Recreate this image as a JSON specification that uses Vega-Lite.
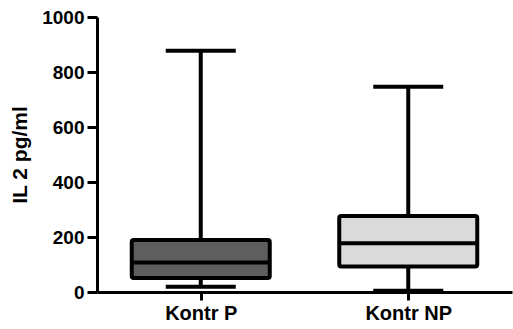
{
  "$schema": "https://vega.github.io/schema/vega-lite/v6.json",
  "autosize": {"type": "none"},
  "padding": {"left": 97, "top": 17, "right": 1, "bottom": 37},
  "width": 415,
  "height": 275,
  "background": "white",
  "config": {
    "view": {"stroke": null},
    "axis": {"domainColor": "black", "tickColor": "black", "domainWidth": 3, "tickWidth": 3, "grid": false, "labelFont": "Liberation Sans", "labelFontWeight": "bold", "labelColor": "black", "titleFont": "Liberation Sans", "titleFontWeight": "bold", "titleColor": "black"}
  },
  "data": {"values": [
    {"group": "Kontr P", "min": 19, "q1": 51, "median": 107, "q3": 189, "max": 877, "fill": "#5e5e5e"},
    {"group": "Kontr NP", "min": 5, "q1": 93, "median": 177, "q3": 276, "max": 746, "fill": "#dadada"}
  ]},
  "encoding": {
    "x": {"field": "group", "type": "nominal", "sort": ["Kontr P", "Kontr NP"], "scale": {"type": "point", "padding": 0.5}, "axis": {"title": null, "labelAngle": 0, "labelPadding": 3, "tickSize": 8, "labelFontSize": 20}}
  },
  "layer": [
    {
      "mark": {"type": "rule", "strokeWidth": 4, "color": "black"},
      "encoding": {
        "y": {"field": "min", "type": "quantitative", "scale": {"domain": [0, 1000]}, "axis": {"title": "IL 2 pg/ml", "values": [0, 200, 400, 600, 800, 1000], "format": "d", "tickSize": 10, "labelPadding": 3, "labelFontSize": 19, "titleFontSize": 21, "titlePadding": 11}},
        "y2": {"field": "max"}
      }
    },
    {
      "mark": {"type": "bar", "size": 138, "stroke": "black", "strokeWidth": 4, "cornerRadius": 2},
      "encoding": {
        "y": {"field": "q1", "type": "quantitative"},
        "y2": {"field": "q3"},
        "fill": {"field": "fill", "type": "nominal", "scale": null}
      }
    },
    {
      "mark": {"type": "tick", "size": 138, "thickness": 4, "color": "black", "opacity": 1},
      "encoding": {"y": {"field": "median", "type": "quantitative"}}
    },
    {
      "mark": {"type": "tick", "size": 70, "thickness": 4, "color": "black", "opacity": 1},
      "encoding": {"y": {"field": "max", "type": "quantitative"}}
    },
    {
      "mark": {"type": "tick", "size": 70, "thickness": 4, "color": "black", "opacity": 1},
      "encoding": {"y": {"field": "min", "type": "quantitative"}}
    }
  ]
}
